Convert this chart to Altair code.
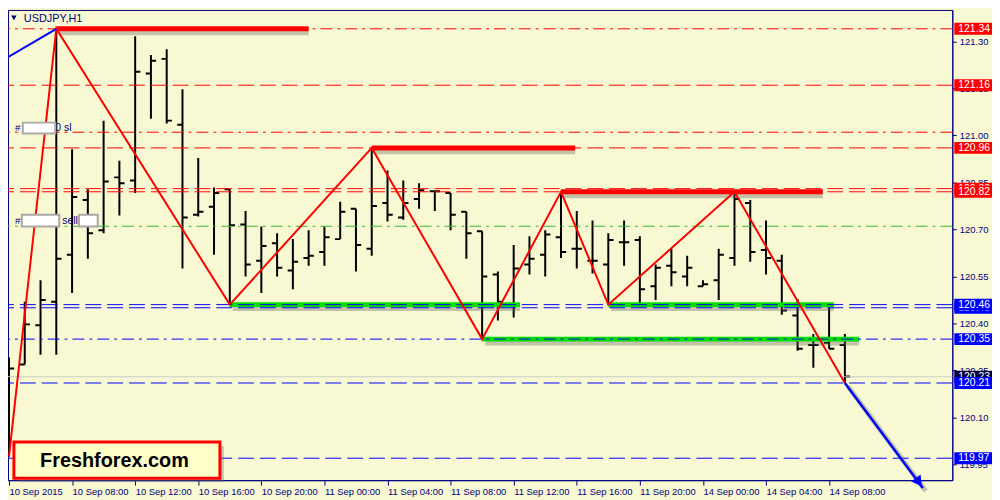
import pandas as pd
import altair as alt

BG = "#F8F8D2"
NAVY = "#000080"
RED = "#FF0000"
BLUE = "#0000FF"
GREEN = "#00E000"
FONT = "Liberation Sans"

# plot area, pixels
W = 952
H = 474

# hourly bars, bar 0 = 10 Sep 2015 04:00
bar_index = list(range(54))
bar_open = [120.030, 120.269, 120.394, 120.469, 120.619, 120.794, 120.697, 120.866, 120.856, 121.197,
            121.244, 121.034, 120.747, 120.772, 120.828, 120.716, 120.600, 120.656, 120.569, 120.609,
            120.628, 120.669, 120.766, 120.638, 120.784, 120.738, 120.797, 120.822, 120.816, 120.756,
            120.694, 120.556, 120.459, 120.588, 120.619, 120.675, 120.638, 120.600, 120.588, 120.659,
            120.666, 120.519, 120.584, 120.550, 120.519, 120.538, 120.609, 120.784, 120.634, 120.600,
            120.425, 120.331, 120.338, 120.331]
bar_high = [120.291, 120.469, 120.538, 121.340, 120.956, 120.828, 121.047, 120.919, 121.316, 121.256,
            121.275, 121.147, 120.928, 120.834, 120.828, 120.759, 120.709, 120.688, 120.669, 120.697,
            120.709, 120.788, 120.766, 120.960, 120.888, 120.856, 120.847, 120.822, 120.816, 120.756,
            120.694, 120.566, 120.650, 120.678, 120.697, 120.820, 120.759, 120.728, 120.688, 120.728,
            120.678, 120.588, 120.638, 120.616, 120.538, 120.638, 120.820, 120.794, 120.728, 120.619,
            120.478, 120.366, 120.450, 120.366]
bar_low = [119.975, 120.269, 120.300, 120.300, 120.497, 120.606, 120.688, 120.744, 120.816, 121.053,
           121.038, 120.575, 120.741, 120.619, 120.460, 120.550, 120.497, 120.550, 120.509, 120.584,
           120.584, 120.669, 120.566, 120.616, 120.725, 120.731, 120.766, 120.759, 120.697, 120.606,
           120.350, 120.409, 120.419, 120.556, 120.550, 120.609, 120.575, 120.559, 120.460, 120.584,
           120.459, 120.475, 120.519, 120.519, 120.519, 120.475, 120.584, 120.597, 120.556, 120.428,
           120.313, 120.259, 120.319, 120.210]
bar_close = [120.256, 120.397, 120.475, 120.606, 120.803, 120.688, 120.853, 120.847, 121.203, 121.238,
             121.047, 120.738, 120.756, 120.816, 120.713, 120.588, 120.647, 120.578, 120.597, 120.616,
             120.675, 120.756, 120.650, 120.775, 120.747, 120.784, 120.825, 120.822, 120.747, 120.688,
             120.550, 120.469, 120.575, 120.606, 120.684, 120.628, 120.638, 120.600, 120.666, 120.659,
             120.509, 120.578, 120.563, 120.578, 120.525, 120.619, 120.797, 120.628, 120.609, 120.441,
             120.319, 120.331, 120.319, 120.231]

tick_bars = [0, 4, 8, 12, 16, 20, 24, 28, 32, 36, 40, 44, 48, 52]
tick_labels = ["10 Sep 2015", "10 Sep 08:00", "10 Sep 12:00", "10 Sep 16:00", "10 Sep 20:00",
               "11 Sep 00:00", "11 Sep 04:00", "11 Sep 08:00", "11 Sep 12:00", "11 Sep 16:00",
               "11 Sep 20:00", "14 Sep 00:00", "14 Sep 04:00", "14 Sep 08:00"]
price_ticks = [121.30, 121.15, 121.00, 120.85, 120.70, 120.55, 120.40, 120.25, 120.10, 119.95]

# zigzag
zigzag_bar = [0, 3, 14, 23, 30, 35, 38, 46, 53]
zigzag_price = [119.975, 121.34, 120.46, 120.96, 120.35, 120.82, 120.46, 120.82, 120.21]

# blue projection lines
blue_in_bar = [-1, 3]
blue_in_price = [121.222, 121.34]
arrow_bar = [53, 57.94]
arrow_price = [120.21, 119.875]

# thick support / resistance segments
thick_start = [3, 23, 35, 14, 38, 30]
thick_end = [19.0, 35.9, 51.6, 32.4, 52.3, 53.9]
thick_price = [121.34, 120.96, 120.82, 120.46, 120.46, 120.35]
thick_color = [RED, RED, RED, GREEN, GREEN, GREEN]

# horizontal levels
red_dash_levels = [121.16, 120.96, 120.83, 120.82]
red_dashdot_levels = [121.34, 121.01]
green_dashdot_levels = [120.71]
blue_dash_levels = [120.46, 120.45, 120.21, 119.97]
blue_dashdot_levels = [120.35]
bid_level = [120.23]

# price boxes on the right axis (first group is partly hidden by the second)
under_label_price = [120.83, 120.45, 120.23]
under_label_color = [RED, BLUE, "#000040"]
over_label_price = [121.34, 121.16, 120.96, 120.82, 120.46, 120.35, 120.21, 119.97]
over_label_color = [RED, RED, RED, RED, BLUE, BLUE, BLUE, BLUE]


def px(x):
    return (x - 2) * W / 958


def py(y):
    return (y - 2) * H / 480


xscale = alt.Scale(domain=[-0.0625, 59.8125], nice=False, zero=False)
yscale = alt.Scale(domain=[119.90, 121.40], nice=False, zero=False)
label_expr = ("[" + ",".join(f"'{t}'" for t in tick_labels) + "]"
              + "[indexof([" + ",".join(str(b) for b in tick_bars) + "], datum.value)]")
xaxis = alt.Axis(values=tick_bars, labelExpr=label_expr, labelAlign="left", labelFlush=False,
                 labelOverlap=False, tickSize=5, labelPadding=1, title=None, grid=False)
yaxis = alt.Axis(orient="right", values=price_ticks, format=".2f", tickSize=4,
                 labelPadding=3, title=None, grid=False, labelOverlap=False)


def X(field):
    return alt.X(field, type="quantitative", scale=xscale, axis=xaxis)


def Y(field):
    return alt.Y(field, type="quantitative", scale=yscale, axis=yaxis)


bars = pd.DataFrame({"i": bar_index, "open": bar_open, "high": bar_high,
                     "low": bar_low, "close": bar_close})
base = alt.Chart(bars)
hl = base.mark_rule(color="black", strokeWidth=2, clip=True).encode(x=X("i"), y=Y("low"), y2="high")
op = base.transform_calculate(xl="datum.i - 0.33").mark_rule(
    color="black", strokeWidth=2, clip=True).encode(x=X("xl"), x2="i", y=Y("open"))
cl = base.transform_calculate(xr="datum.i + 0.33").mark_rule(
    color="black", strokeWidth=2, clip=True).encode(x=X("i"), x2="xr", y=Y("close"))

thick = pd.DataFrame({"start": thick_start, "end": thick_end,
                      "price": thick_price, "color": thick_color})
thick_shadow = alt.Chart(thick).mark_rule(
    color="#606060", opacity=0.35, strokeWidth=7, xOffset=3, yOffset=3).encode(
    x=X("start"), x2="end", y=Y("price"))
thick_lines = alt.Chart(thick).mark_rule(strokeWidth=5).encode(
    x=X("start"), x2="end", y=Y("price"), color=alt.Color("color:N", scale=None))


def levels(values, color, dash, width=1.0):
    df = pd.DataFrame({"price": values})
    return alt.Chart(df).mark_rule(color=color, strokeDash=dash, strokeWidth=width).encode(y=Y("price"))


lv = [
    levels(red_dash_levels, RED, [16, 6]),
    levels(red_dashdot_levels, RED, [12, 5, 3, 5]),
    levels(green_dashdot_levels, "#33BB33", [12, 5, 3, 5]),
    levels(blue_dash_levels, BLUE, [16, 6]),
    levels(blue_dashdot_levels, BLUE, [12, 5, 3, 5]),
    levels(bid_level, "#C8C8C8", [1, 0]),
]

zz = alt.Chart(pd.DataFrame({"i": zigzag_bar, "p": zigzag_price})).mark_line(
    color=RED, strokeWidth=2, clip=True).encode(x=X("i"), y=Y("p"))
blue_in = alt.Chart(pd.DataFrame({"i": blue_in_bar, "p": blue_in_price})).mark_line(
    color=BLUE, strokeWidth=2, clip=True).encode(x=X("i"), y=Y("p"))
arrow_df = pd.DataFrame({"i": arrow_bar, "p": arrow_price})
arrow_shadow = alt.Chart(arrow_df).mark_line(
    color="#505050", opacity=0.3, strokeWidth=5, xOffset=3, yOffset=3).encode(x=X("i"), y=Y("p"))
arrow_line = alt.Chart(arrow_df).mark_line(color=BLUE, strokeWidth=2.5).encode(x=X("i"), y=Y("p"))
arrow_head = alt.Chart(arrow_df.tail(1)).mark_point(
    shape="triangle-up", filled=True, color=BLUE, opacity=1, size=140, angle=144,
    xOffset=-4, yOffset=-6).encode(x=X("i"), y=Y("p"))


def price_boxes(prices, colors):
    df = pd.DataFrame({"price": prices, "color": colors})
    box = alt.Chart(df).transform_calculate(
        top="datum.price + 0.019", bot="datum.price - 0.019").mark_rect().encode(
        x=alt.value(W + 2), x2=alt.value(W + 40), y=Y("top"), y2="bot",
        color=alt.Color("color:N", scale=None))
    txt = alt.Chart(df).mark_text(color="white", font=FONT, fontSize=10.5, align="left",
                                  baseline="middle").encode(
        x=alt.value(W + 6), y=Y("price"), text=alt.Text("price:Q", format=".2f"))
    return box + txt


one = alt.Chart(pd.DataFrame({"k": [0]}))


def box(x1, y1, x2, y2, **kw):
    return one.mark_rect(**kw).encode(x=alt.value(px(x1)), x2=alt.value(px(x2)),
                                      y=alt.value(py(y1)), y2=alt.value(py(y2)))


def label(x, y, s, **kw):
    return one.mark_text(align="left", baseline="middle", font=FONT, **kw).encode(
        x=alt.value(px(x)), y=alt.value(py(y)), text=alt.value(s))


title_mark = one.mark_point(shape="triangle-down", filled=True, color=NAVY, size=30, opacity=1).encode(
    x=alt.value(px(8)), y=alt.value(py(10)))
title_text = label(18, 11, "USDJPY,H1", fontSize=11, color=NAVY)

orders = [
    label(9, 122, "#", fontSize=10, color=NAVY),
    label(50, 122, "0 sl", fontSize=10.5, color=NAVY),
    box(17, 117, 50, 128, fill="white", stroke="#A8A8A8", strokeWidth=2),
    label(9, 217, "#", fontSize=10, color=NAVY),
    label(57, 217, "sell", fontSize=10.5, color=NAVY),
    box(16, 211, 54, 223, fill="white", stroke="#A8A8A8", strokeWidth=2),
    box(74, 211, 93, 223, fill="white", stroke="#A8A8A8", strokeWidth=2),
]

logo = [
    box(12, 447, 221, 484, fill="#707070", opacity=0.35),
    box(8, 443, 217, 480, fill="#FFFFC8", stroke=RED, strokeWidth=3),
    one.mark_text(font=FONT, fontSize=20, fontWeight="bold", color="black", align="center",
                  baseline="middle").encode(x=alt.value(px(110)), y=alt.value(py(462)),
                                            text=alt.value("Freshforex.com")),
]

chart = alt.layer(
    hl, op, cl, thick_shadow, thick_lines, *lv, zz, blue_in,
    arrow_shadow, arrow_line, arrow_head,
    price_boxes(under_label_price, under_label_color),
    price_boxes(over_label_price, over_label_color),
    title_mark, title_text, *orders, *logo,
).properties(
    width=W, height=H,
    autosize=alt.AutoSizeParams(type="none"),
    padding={"left": 0, "top": 0, "right": 40, "bottom": 18},
).configure(
    background=BG,
).configure_view(
    fill=BG, stroke=NAVY, strokeWidth=1,
).configure_axis(
    labelFont=FONT, labelFontSize=9.5, labelColor=NAVY, tickColor=NAVY, domainColor=NAVY,
)

chart.save("out.html", embed_options={"renderer": "svg", "actions": False})
